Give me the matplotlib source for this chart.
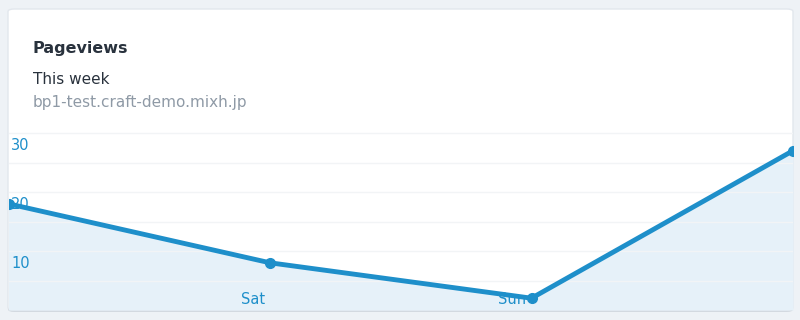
import matplotlib
matplotlib.use("Agg")
import matplotlib.pyplot as plt
import matplotlib.transforms as mtransforms
from matplotlib.patches import FancyBboxPatch
import numpy as np

# data
days = ["Fri", "Sat", "Sun", "Mon"]
shown_days = ["", "Sat", "Sun", ""]
pageviews = [18, 8, 2, 27]
grid_values = [5, 10, 15, 20, 25, 30]
grid_labels = ["", "10", "", "20", "", "30"]

title = "Pageviews"
subtitle = "This week"
site = "bp1-test.craft-demo.mixh.jp"

LINE = "#1e8fca"
FILL = "#e6f1f9"
TEXT_DARK = "#29323d"
TEXT_GRAY = "#8f9aa6"

W, H = 800, 320
fig = plt.figure(figsize=(W / 100, H / 100), dpi=100)
fig.patch.set_facecolor("#eef2f6")

# card with a soft bottom shadow
shadow = FancyBboxPatch((8 / W, 8 / H), 785 / W, 302 / H,
                        boxstyle="round,pad=0,rounding_size=0.008",
                        transform=fig.transFigure, facecolor="#d3d9e0",
                        edgecolor="none", zorder=0)
card = FancyBboxPatch((8 / W, 10 / H), 785 / W, 301 / H,
                      boxstyle="round,pad=0,rounding_size=0.008",
                      transform=fig.transFigure, facecolor="white",
                      edgecolor="#e2e7ed", linewidth=1.0, zorder=0)
fig.patches.extend([shadow, card])

fig.text(33 / W, 1 - 48 / H, title, fontsize=11.5, fontweight="bold",
         color=TEXT_DARK, va="center", ha="left")
fig.text(33 / W, 1 - 79 / H, subtitle, fontsize=11,
         color=TEXT_DARK, va="center", ha="left")
fig.text(33 / W, 1 - 103 / H, site, fontsize=11,
         color=TEXT_GRAY, va="center", ha="left")

top_px, bottom_px = 103.5, 310
ax = fig.add_axes([8.5 / W, (H - bottom_px) / H, 784.5 / W, (bottom_px - top_px) / H])
ax.set_zorder(2)
ax.set_facecolor("none")
x = np.arange(len(days))
ax.set_xlim(0, len(days) - 1)
ax.set_ylim(0, 35)

ax.fill_between(x, pageviews, 0, color=FILL, linewidth=0, zorder=1)
ax.plot(x, pageviews, color=LINE, linewidth=3.5, marker="o", markersize=7,
        solid_joinstyle="round", zorder=4)

for s in ax.spines.values():
    s.set_visible(False)

ax.set_yticks(grid_values)
ax.set_yticklabels(grid_labels)
ax.yaxis.grid(True, color="#f2f4f6", linewidth=1)
ax.set_axisbelow(False)
ax.tick_params(axis="y", length=0, pad=-2, labelsize=10.5, labelcolor=LINE)
for lab in ax.get_yticklabels():
    lab.set_ha("left")
    lab.set_va("top")
    lab.set_transform(lab.get_transform() +
                      mtransforms.ScaledTranslation(0, -5 / 100, fig.dpi_scale_trans))

ax.set_xticks(x)
ax.set_xticklabels(shown_days)
ax.tick_params(axis="x", length=0, pad=-13, labelsize=10.5, labelcolor=LINE)
for lab in ax.get_xticklabels():
    lab.set_ha("right")
    lab.set_transform(lab.get_transform() +
                      mtransforms.ScaledTranslation(-5 / 100, 0, fig.dpi_scale_trans))

fig.savefig("out.png", dpi=100, facecolor=fig.get_facecolor())
